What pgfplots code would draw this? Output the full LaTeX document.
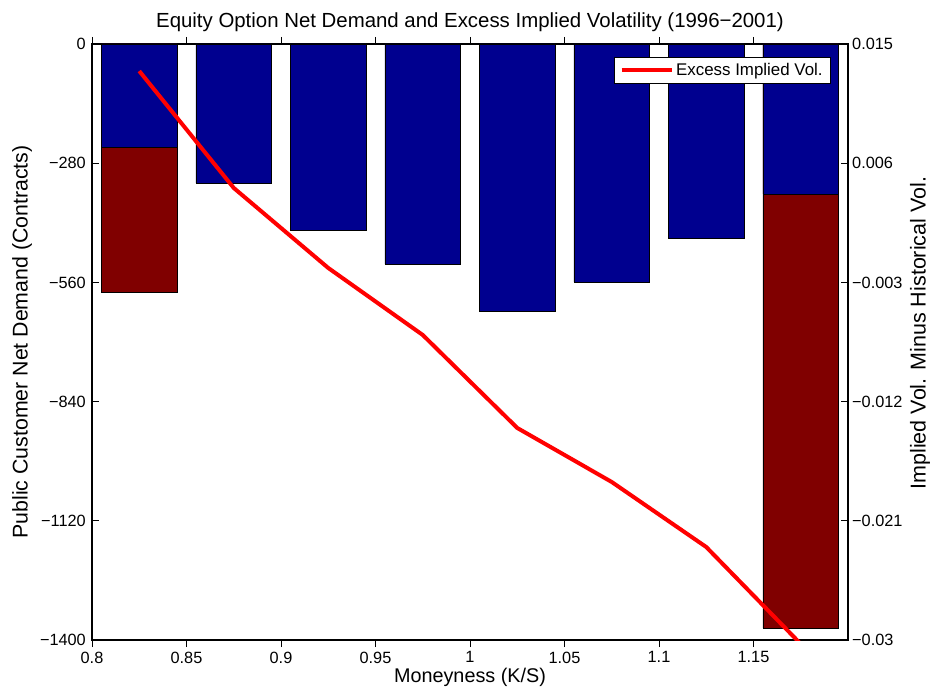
\documentclass[border=0pt]{standalone}
\usepackage{pgfplots}
\pgfplotsset{compat=1.18}
\usepackage{fontspec}
\setmainfont{Liberation Sans}
\definecolor{barblue}{RGB}{0,0,143}
\definecolor{barred}{RGB}{128,0,0}
\begin{document}
\fontsize{14}{16}\selectfont
\begin{tikzpicture}
\useasboundingbox (0pt,0pt) rectangle (931pt,686pt);
\begin{axis}[
  at={(92pt,46pt)}, anchor=south west, scale only axis,
  width=756pt, height=596pt,
  xmin=0.8, xmax=1.2, ymin=-1400, ymax=0,
  xtick={0.8,0.85,0.9,0.95,1,1.05,1.1,1.15},
  xticklabels={0.8,0.85,0.9,0.95,1,1.05,1.1,1.15},
  ytick={-1400,-1120,-840,-560,-280,0},
  yticklabels={−1400,−1120,−840,−560,−280,0},
  xtick pos=both, xticklabel pos=lower, ytick pos=left,
  tick align=inside, major tick length=7pt,
  tick style={black, line width=0.7pt},
  axis line style={line width=1.2pt},
  tick label style={font=\fontsize{16.3}{18}\selectfont},
  yticklabel style={inner sep=1pt, xshift=-5pt},
  xticklabel style={inner sep=0pt, yshift=-4.5pt},
  ybar, bar width=0.04, bar shift=0pt,
  title={Equity Option Net Demand and Excess Implied Volatility (1996−2001)},
  title style={at={(axis description cs:0.5,1.027)}, anchor=center, font=\fontsize{20.4}{22}\selectfont},
  xlabel={Moneyness (K/S)},
  xlabel style={at={(axis description cs:0.5,-0.063)}, anchor=center, font=\fontsize{19.8}{22}\selectfont},
  ylabel={Public Customer Net Demand (Contracts)},
  ylabel style={at={(axis description cs:-0.0926,0.5)}, anchor=center, font=\fontsize{21.3}{23}\selectfont},
  clip=true,
]
\addplot[fill=barred, draw=black, line width=0.6pt] coordinates {
  (0.825,-583) (1.175,-1372)
};
\addplot[fill=barblue, draw=black, line width=0.6pt] coordinates {
  (0.825,-242) (0.875,-327) (0.925,-437) (0.975,-517)
  (1.025,-627) (1.075,-559) (1.125,-456) (1.175,-352)
};
\end{axis}
\begin{axis}[
  at={(92pt,46pt)}, anchor=south west, scale only axis,
  width=756pt, height=596pt,
  xmin=0.8, xmax=1.2, ymin=-0.03, ymax=0.015,
  axis x line=none, axis y line*=right,
  scaled y ticks=false,
  ytick={-0.03,-0.021,-0.012,-0.003,0.006,0.015},
  yticklabels={−0.03,−0.021,−0.012,−0.003,0.006,0.015},
  tick align=inside, major tick length=7pt,
  tick style={black, line width=0.7pt},
  axis line style={line width=1.2pt},
  tick label style={font=\fontsize{16.3}{18}\selectfont},
  yticklabel style={inner sep=1pt, xshift=3pt},
  ylabel={Implied Vol. Minus Historical Vol.},
  ylabel style={at={(axis description cs:1.0952,0.515)}, anchor=center, font=\fontsize{21.5}{23}\selectfont},
  legend style={at={(axis description cs:0.9775,0.9785)}, anchor=north east,
    draw=black, line width=0.7pt, font=\fontsize{16.9}{18}\selectfont,
    inner xsep=5.5pt, inner ysep=3.5pt,
    nodes={inner sep=2.5pt}},
  legend image code/.code={\draw[#1] (0pt,0pt) -- (50pt,0pt);},
  clip=true,
]
\addplot[red, line width=4pt] coordinates {
  (0.825,0.01296) (0.875,0.00413) (0.925,-0.00191) (0.975,-0.00697)
  (1.025,-0.01399) (1.075,-0.01807) (1.125,-0.02298) (1.175,-0.0303)
};
\addlegendentry{Excess Implied Vol.}
\end{axis}
\end{tikzpicture}
\end{document}
